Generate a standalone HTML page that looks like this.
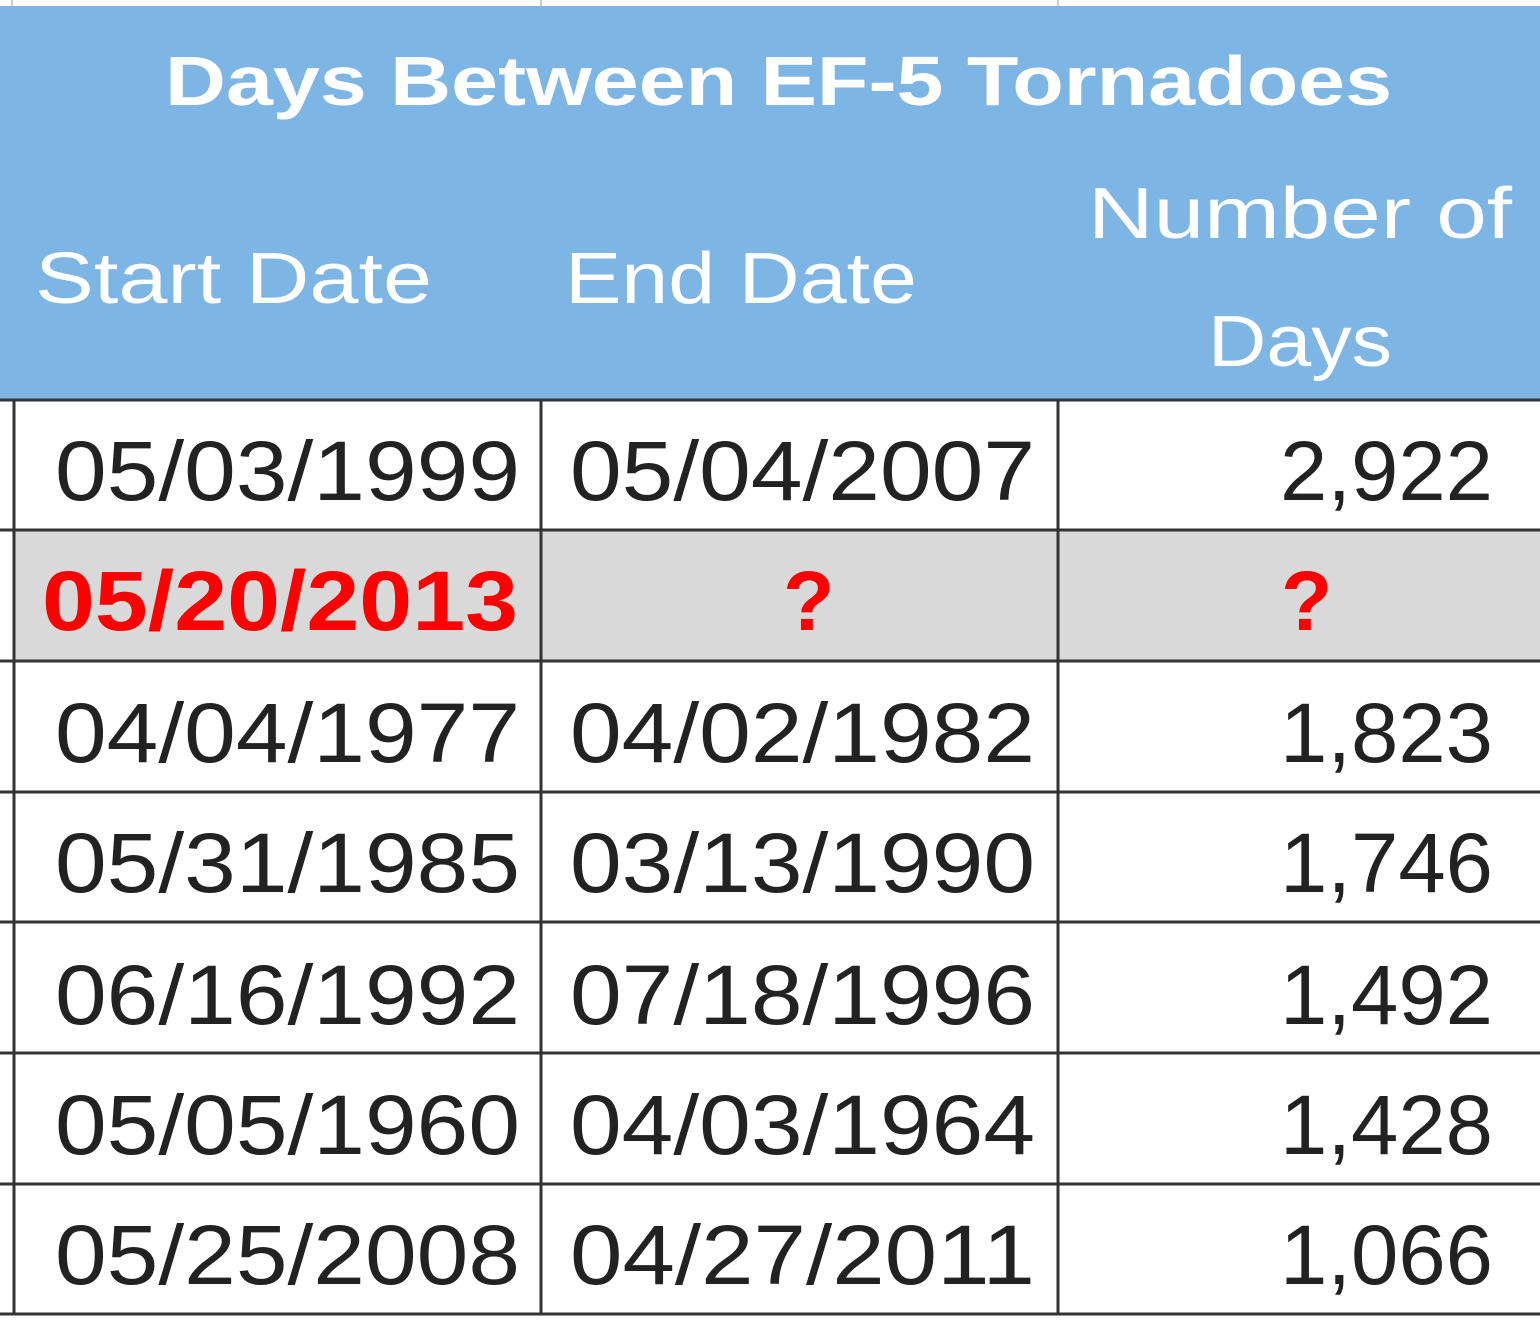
<!DOCTYPE html>
<html><head><style>html,body{margin:0;padding:0;background:#fff}svg{display:block}</style></head>
<body>
<svg width="1540" height="1328" xmlns="http://www.w3.org/2000/svg" font-family="'Liberation Sans', sans-serif">
<rect width="1540" height="1328" fill="#fff"/>
<line x1="12" y1="0" x2="12" y2="6" stroke="#ccc" stroke-width="2"/>
<line x1="541" y1="0" x2="541" y2="6" stroke="#ccc" stroke-width="2"/>
<line x1="1058" y1="0" x2="1058" y2="6" stroke="#ccc" stroke-width="2"/>
<rect x="0" y="6" width="1540" height="393" fill="#7DB5E4"/>
<rect x="14" y="530" width="1526" height="131" fill="#D9D9D9"/>
<g fill="#fff">
<text x="165" y="105" font-size="70" font-weight="bold" textLength="1227" lengthAdjust="spacingAndGlyphs">Days Between EF-5 Tornadoes</text>
<text x="35" y="303" font-size="72" textLength="397" lengthAdjust="spacingAndGlyphs">Start Date</text>
<text x="565" y="303" font-size="72" textLength="352" lengthAdjust="spacingAndGlyphs">End Date</text>
<text x="1088" y="238" font-size="72" textLength="424" lengthAdjust="spacingAndGlyphs">Number of</text>
<text x="1208" y="366" font-size="72" textLength="184" lengthAdjust="spacingAndGlyphs">Days</text>
</g>
<g stroke="#333" stroke-width="3">
<line x1="0" y1="400" x2="1540" y2="400"/>
<line x1="0" y1="530" x2="1540" y2="530"/>
<line x1="0" y1="661" x2="1540" y2="661"/>
<line x1="0" y1="792" x2="1540" y2="792"/>
<line x1="0" y1="922" x2="1540" y2="922"/>
<line x1="0" y1="1053" x2="1540" y2="1053"/>
<line x1="0" y1="1184" x2="1540" y2="1184"/>
<line x1="0" y1="1314" x2="1540" y2="1314"/>
<line x1="14" y1="400" x2="14" y2="1314"/>
<line x1="541" y1="400" x2="541" y2="1314"/>
<line x1="1058" y1="400" x2="1058" y2="1314"/>
</g>
<g fill="#222" font-size="84">
<text x="55" y="500" textLength="465" lengthAdjust="spacingAndGlyphs">05/03/1999</text>
<text x="570" y="500" textLength="465" lengthAdjust="spacingAndGlyphs">05/04/2007</text>
<text x="1280" y="500" textLength="213" lengthAdjust="spacingAndGlyphs">2,922</text>
<text x="55" y="762" textLength="465" lengthAdjust="spacingAndGlyphs">04/04/1977</text>
<text x="570" y="762" textLength="465" lengthAdjust="spacingAndGlyphs">04/02/1982</text>
<text x="1280" y="762" textLength="213" lengthAdjust="spacingAndGlyphs">1,823</text>
<text x="55" y="892" textLength="465" lengthAdjust="spacingAndGlyphs">05/31/1985</text>
<text x="570" y="892" textLength="465" lengthAdjust="spacingAndGlyphs">03/13/1990</text>
<text x="1280" y="892" textLength="213" lengthAdjust="spacingAndGlyphs">1,746</text>
<text x="55" y="1024" textLength="465" lengthAdjust="spacingAndGlyphs">06/16/1992</text>
<text x="570" y="1024" textLength="465" lengthAdjust="spacingAndGlyphs">07/18/1996</text>
<text x="1280" y="1024" textLength="213" lengthAdjust="spacingAndGlyphs">1,492</text>
<text x="55" y="1154" textLength="465" lengthAdjust="spacingAndGlyphs">05/05/1960</text>
<text x="570" y="1154" textLength="465" lengthAdjust="spacingAndGlyphs">04/03/1964</text>
<text x="1280" y="1154" textLength="213" lengthAdjust="spacingAndGlyphs">1,428</text>
<text x="55" y="1284" textLength="465" lengthAdjust="spacingAndGlyphs">05/25/2008</text>
<text x="570" y="1284" textLength="465" lengthAdjust="spacingAndGlyphs">04/27/2011</text>
<text x="1280" y="1284" textLength="213" lengthAdjust="spacingAndGlyphs">1,066</text>
</g>
<g fill="#FF0000" font-size="84" font-weight="bold">
<text x="42" y="630" textLength="476" lengthAdjust="spacingAndGlyphs">05/20/2013</text>
<text x="783" y="630">?</text>
<text x="1281" y="630">?</text>
</g>
</svg>
</body></html>
